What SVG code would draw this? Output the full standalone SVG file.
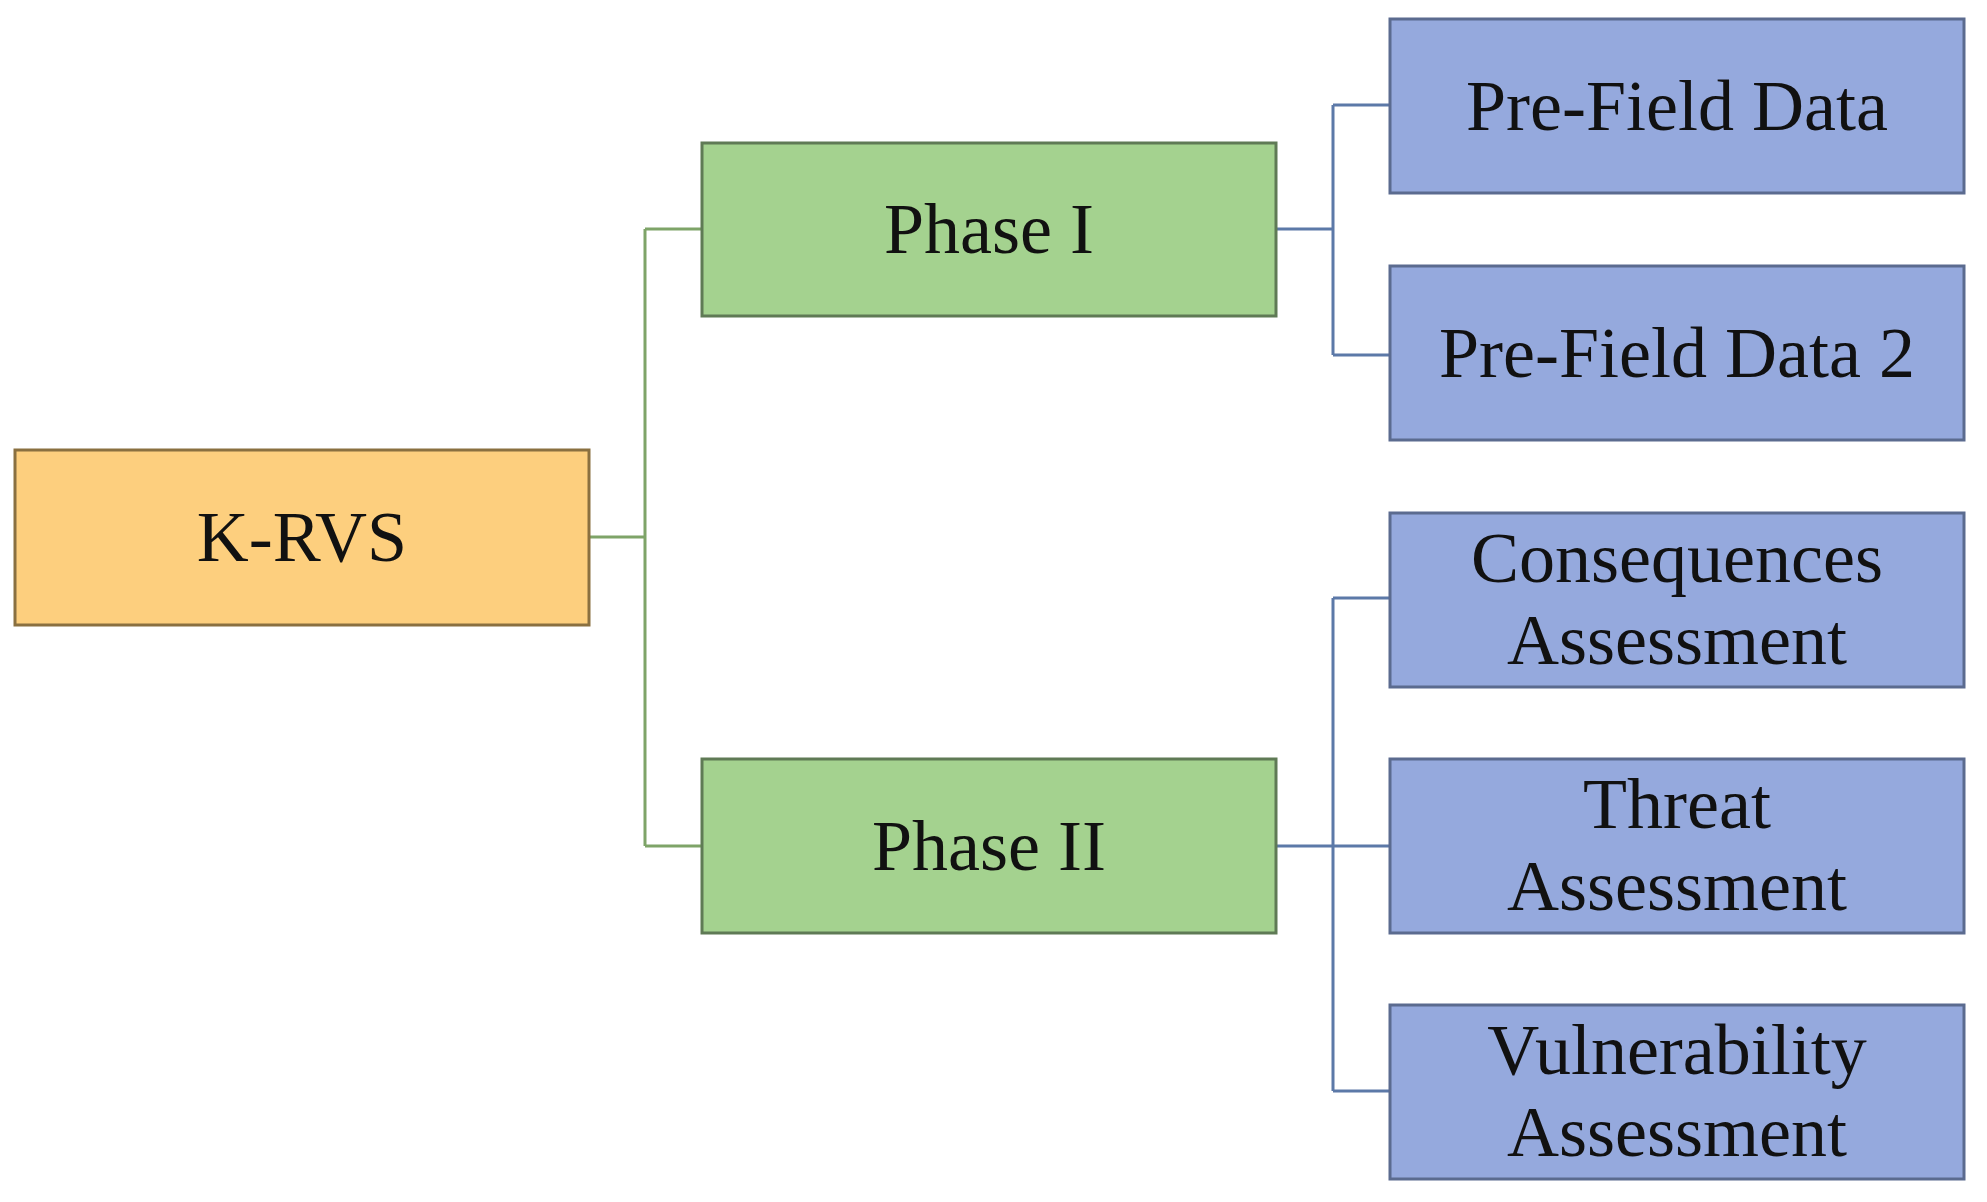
<svg xmlns="http://www.w3.org/2000/svg" width="1987" height="1202" viewBox="0 0 1987 1202">
<style>
text{font-family:"Liberation Serif","Times New Roman",serif;font-size:72px;fill:#111;text-anchor:middle;dominant-baseline:central}
.o{fill:#fdcf7e;stroke:#8a7040;stroke-width:3}
.g{fill:#a4d28f;stroke:#5f7a55;stroke-width:3}
.b{fill:#95a9dd;stroke:#5b6b8f;stroke-width:3}
.cg{stroke:#7ea468;stroke-width:3;fill:none}
.cb{stroke:#5c79a8;stroke-width:3;fill:none}
</style>
<rect width="1987" height="1202" fill="#fff"/>
<g id="connectors">
<path class="cg" d="M589 537H645M645 229V846M645 229H702M645 846H759"/>
<path class="cb" d="M1276 229H1333M1333 105V355M1333 105H1390M1333 355H1390"/>
<path class="cb" d="M1276 846H1390M1333 598V1091M1333 598H1390M1333 1091H1390"/>
</g>
<g id="krvs"><rect class="o" x="15" y="450" width="574" height="175"/><text x="302" y="537">K-RVS</text></g>
<g id="phase1"><rect class="g" x="702" y="143" width="574" height="173"/><text x="989" y="229">Phase I</text></g>
<g id="phase2"><rect class="g" x="702" y="759" width="574" height="174"/><text x="989" y="846">Phase II</text></g>
<g id="pfd"><rect class="b" x="1390" y="19" width="574" height="174"/><text x="1677" y="106">Pre-Field Data</text></g>
<g id="pfd2"><rect class="b" x="1390" y="266" width="574" height="174"/><text x="1677" y="353">Pre-Field Data 2</text></g>
<g id="cons"><rect class="b" x="1390" y="513" width="574" height="174"/><text x="1677" y="558">Consequences</text><text x="1677" y="640">Assessment</text></g>
<g id="threat"><rect class="b" x="1390" y="759" width="574" height="174"/><text x="1677" y="804">Threat</text><text x="1677" y="886">Assessment</text></g>
<g id="vuln"><rect class="b" x="1390" y="1005" width="574" height="174"/><text x="1677" y="1050">Vulnerability</text><text x="1677" y="1132">Assessment</text></g>
</svg>
